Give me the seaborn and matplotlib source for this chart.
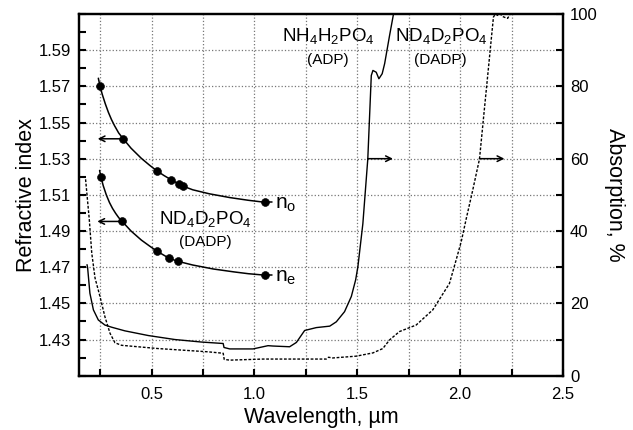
"""refractive index and absorption of ADP / DADP vs wavelength

"""
import numpy as np
import matplotlib.pyplot as plt
import seaborn as sns
import pandas as pd
from matplotlib.ticker import MultipleLocator

# measured refractive index points (DADP)
no_wl = [0.249, 0.362, 0.524, 0.594, 0.633, 0.653, 1.050]
no_val = [1.5702, 1.5410, 1.5234, 1.5184, 1.5160, 1.5148, 1.5059]
ne_wl = [0.254, 0.357, 0.524, 0.584, 0.626, 1.050]
ne_val = [1.5197, 1.4953, 1.4790, 1.4750, 1.4733, 1.4656]

# dispersion curves drawn through the points
no_curve_wl = [0.241, 0.249, 0.260, 0.275, 0.290, 0.305, 0.320, 0.340, 0.362,
               0.400, 0.450, 0.490, 0.524, 0.560, 0.594, 0.633, 0.653, 0.700,
               0.780, 0.880, 0.970, 1.050]
no_curve_val = [1.5745, 1.5702, 1.5656, 1.5603, 1.5556, 1.5516, 1.5482, 1.5442,
                1.5410, 1.5358, 1.5302, 1.5264, 1.5234, 1.5207, 1.5184, 1.5160,
                1.5148, 1.5128, 1.5106, 1.5085, 1.5070, 1.5059]
ne_curve_wl = [0.247, 0.254, 0.265, 0.280, 0.295, 0.310, 0.325, 0.340, 0.357,
               0.400, 0.450, 0.490, 0.524, 0.584, 0.626, 0.700, 0.800, 0.900,
               0.970, 1.050]
ne_curve_val = [1.5235, 1.5197, 1.5150, 1.5099, 1.5058, 1.5025, 1.4998, 1.4974,
                1.4953, 1.4900, 1.4850, 1.4817, 1.4790, 1.4750, 1.4733, 1.4712,
                1.4690, 1.4674, 1.4664, 1.4656]

# absorption spectra, %
adp_wl = [0.186, 0.189, 0.200, 0.217, 0.241, 0.273, 0.306, 0.370, 0.484, 0.613,
          0.743, 0.848, 0.852, 0.880, 0.993, 1.066, 1.090, 1.171, 1.204, 1.244,
          1.301, 1.366, 1.398, 1.438, 1.471, 1.492, 1.503, 1.527, 1.551, 1.568,
          1.576, 1.592, 1.605, 1.621, 1.633, 1.657, 1.676]
adp_abs = [30.7, 29.8, 22.8, 18.2, 15.4, 14.0, 13.4, 12.4, 11.1, 10.0,
           9.3, 8.9, 7.8, 7.4, 7.4, 8.3, 8.2, 8.0, 9.2, 12.5,
           13.3, 13.7, 14.9, 17.7, 21.9, 26.5, 30.2, 42.0, 59.9, 83.0,
           84.4, 83.9, 82.1, 83.5, 86.3, 94.1, 100.0]
dadp_wl = [0.179, 0.197, 0.209, 0.225, 0.249, 0.273, 0.298, 0.322, 0.354, 0.532,
           0.775, 0.848, 0.853, 0.880, 1.042, 1.349, 1.360, 1.380, 1.495, 1.576,
           1.624, 1.657, 1.705, 1.786, 1.867, 1.908, 1.948, 1.981, 2.005, 2.030,
           2.060, 2.094, 2.118, 2.134, 2.150, 2.162, 2.172, 2.183, 2.195, 2.207,
           2.220, 2.231, 2.243]
dadp_abs = [54.3, 43.2, 33.9, 27.0, 21.9, 16.3, 11.7, 9.1, 8.4, 7.5,
            6.6, 6.2, 4.5, 4.3, 4.6, 4.6, 5.1, 4.9, 5.4, 6.3,
            7.5, 9.9, 12.2, 14.0, 18.2, 21.9, 25.5, 32.1, 37.0, 43.5,
            51.0, 59.9, 73.8, 83.0, 92.3, 99.2, 100.0, 99.6, 100.0, 99.3,
            99.0, 98.8, 100.0]

sns.set_style("ticks")
plt.rcParams['font.family'] = ['Liberation Sans', 'DejaVu Sans']
plt.rcParams['mathtext.default'] = 'regular'
for key in ['text.color', 'axes.labelcolor', 'xtick.color', 'ytick.color',
            'axes.edgecolor']:
    plt.rcParams[key] = 'black'

fig = plt.figure(figsize=(6.33, 4.3), dpi=100)
ax = fig.add_axes([0.1248, 0.1263, 0.7646, 0.8411])
ax2 = ax.twinx()

# absorption curves on the right axis
sns.lineplot(x=adp_wl, y=adp_abs, ax=ax2, color='black', lw=1.0,
             estimator=None, sort=False)
sns.lineplot(x=dadp_wl, y=dadp_abs, ax=ax2, color='black', lw=1.0,
             linestyle=(0, (2, 1.2)), estimator=None, sort=False)

# refractive index curves on the left axis
sns.lineplot(x=no_curve_wl, y=no_curve_val, ax=ax, color='black', lw=1.1,
             estimator=None, sort=False)
sns.lineplot(x=ne_curve_wl, y=ne_curve_val, ax=ax, color='black', lw=1.1,
             estimator=None, sort=False)
pts = pd.DataFrame({"wl": no_wl + ne_wl, "n": no_val + ne_val})
sns.scatterplot(data=pts, x="wl", y="n", ax=ax, color='black', s=32,
                edgecolor='black', zorder=5)

# leader lines and labels n_o / n_e
ax.plot([no_wl[-1], 1.083], [no_val[-1], no_val[-1]], color='black', lw=1.1)
ax.plot([ne_wl[-1], 1.083], [ne_val[-1], ne_val[-1]], color='black', lw=1.1)
ax.text(1.098, 1.5025, "n$_o$", fontsize=15, va='baseline', ha='left')
ax.text(1.098, 1.4622, "n$_e$", fontsize=15, va='baseline', ha='left')

# arrows pointing to the axis each curve belongs to
arrow = dict(arrowstyle='->', color='black', lw=1.1, shrinkA=0, shrinkB=0)
ax.annotate("", xy=(0.238, no_val[1]), xytext=(no_wl[1], no_val[1]), arrowprops=arrow)
ax.annotate("", xy=(0.236, ne_val[1]), xytext=(ne_wl[1], ne_val[1]), arrowprops=arrow)
ax2.annotate("", xy=(1.673, 60), xytext=(1.551, 60), arrowprops=arrow)
ax2.annotate("", xy=(2.215, 60), xytext=(2.094, 60), arrowprops=arrow)

# compound labels
ax.text(1.361, 1.598, "NH$_4$H$_2$PO$_4$", fontsize=13.5, ha='center', va='center')
ax.text(1.357, 1.5845, "(ADP)", fontsize=11, ha='center', va='center')
ax.text(1.907, 1.598, "ND$_4$D$_2$PO$_4$", fontsize=13.5, ha='center', va='center')
ax.text(1.904, 1.5845, "(DADP)", fontsize=11, ha='center', va='center')
ax.text(0.763, 1.4966, "ND$_4$D$_2$PO$_4$", fontsize=13.5, ha='center', va='center')
ax.text(0.759, 1.4837, "(DADP)", fontsize=11, ha='center', va='center')

# axes
ax.set_xlim(0.147, 2.5)
ax.set_ylim(1.41, 1.61)
ax2.set_ylim(0, 100)
ax.xaxis.set_major_locator(MultipleLocator(0.5))
ax.xaxis.set_minor_locator(MultipleLocator(0.25))
ax.yaxis.set_minor_locator(MultipleLocator(0.01))
ax.set_yticks(np.arange(1.43, 1.60, 0.02))
ax2.yaxis.set_major_locator(MultipleLocator(20))
ax2.yaxis.set_minor_locator(MultipleLocator(10))

ax.grid(True, which='both', axis='x', linestyle=':', color='#777777', lw=0.9)
ax.grid(True, which='major', axis='y', linestyle=':', color='#777777', lw=0.9)
ax.set_axisbelow(True)

ax.tick_params(axis='both', which='both', direction='in', length=5, width=1.5,
               labelsize=12, top=False, right=False)
ax.tick_params(axis='x', which='major', pad=8)
ax.tick_params(axis='y', which='major', pad=6)
ax2.tick_params(axis='y', which='both', direction='in', length=5, width=1.5,
                labelsize=12, pad=5)
for a in (ax, ax2):
    for sp in a.spines.values():
        sp.set_linewidth(1.6)
        sp.set_visible(True)

ax.set_xlabel("Wavelength, µm", fontsize=15.5, labelpad=4)
ax.set_ylabel("Refractive index", fontsize=15.5, labelpad=1)
ax2.set_ylabel("Absorption, %", fontsize=15.5, rotation=270, labelpad=20)
ax2.set_xlabel("")

fig.savefig("out.png", dpi=100)
